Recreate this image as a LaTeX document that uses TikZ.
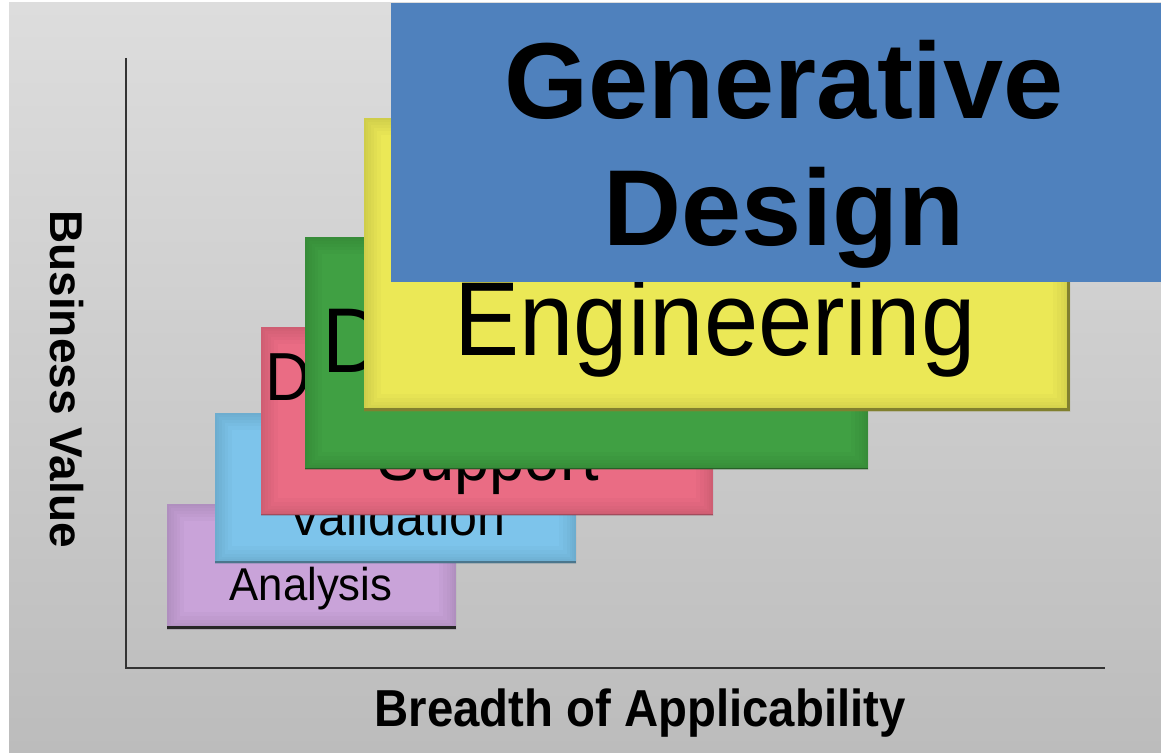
\documentclass[tikz,border=0pt]{standalone}
\usepackage{fontspec}
\setmainfont{Liberation Sans}
\usepackage{graphicx}

\definecolor{bgtop}{HTML}{DDDDDD}
\definecolor{bgbot}{HTML}{BCBCBC}
\definecolor{lavender}{HTML}{C9A3D9}
\definecolor{skyblue}{HTML}{7DC4EB}
\definecolor{rosered}{HTML}{EA6C84}
\definecolor{leafgreen}{HTML}{40A043}
\definecolor{lemon}{HTML}{EBE856}
\definecolor{slateblue}{HTML}{4F81BD}
\definecolor{axisgray}{HTML}{333333}

% horizontally condensed text
\newcommand\hsquash[2]{\scalebox{#1}[1]{#2}}

\tikzset{
  rim/.style={line width=#1, opacity=0.05},
  stage/.style={anchor=north west, inner sep=0pt, outer sep=0pt, fill=#1, draw=none,
    path picture={
      \foreach \w in {34pt,26pt,19pt,13pt,8pt,4pt}
        \draw[#1!60!black, rim=\w]
          (path picture bounding box.south west) rectangle (path picture bounding box.north east);
    }},
  edge/.style={line width=#1, line cap=butt},
  lbl/.style={inner sep=0pt, outer sep=0pt, text=black},
  axisline/.style={draw=axisgray, line width=1.6pt},
}

\begin{document}
\begin{tikzpicture}[x=1pt, y=-1pt]
  \useasboundingbox (0,0) rectangle (1161,752);
  % backdrop
  \fill[white] (0,0) rectangle (1161,752);
  \shade[top color=bgtop, bottom color=bgbot] (9,3) rectangle (1161,752);

  % axes
  \coordinate (ytop) at (126,58);
  \coordinate (origin) at (126,668);
  \coordinate (xend) at (1105,668);
  \draw[axisline] (ytop) -- (origin) -- (xend);

  \node[lbl, anchor=base] (xlabel) at (640,726)
    {\bfseries\fontsize{52}{56}\selectfont\hsquash{0.91}{Breadth of Applicability}};
  \node[lbl, anchor=base, rotate=-90] (ylabel) at (50,379)
    {\bfseries\fontsize{46}{50}\selectfont Business Value};

  % level 1
  \node[stage=lavender, minimum width=289pt, minimum height=125pt] (analysis) at (167,504) {};
  \draw[edge=3.5pt, black!85] ([yshift=1.75pt]analysis.south west) -- ([yshift=1.75pt]analysis.south east);
  \node[lbl, anchor=base] (analysistxt) at (311,600)
    {\fontsize{46}{50}\selectfont\hsquash{0.95}{Analysis}};

  % level 2
  \node[stage=skyblue, minimum width=361pt, minimum height=150pt] (validation) at (215,413) {};
  \draw[edge=2pt, skyblue!60!black] ([yshift=1pt]validation.south west) -- ([yshift=1pt]validation.south east);
  \node[lbl, anchor=base] (validationtxt) at (397,535)
    {\fontsize{54}{60}\selectfont\hsquash{0.93}{Validation}};

  % level 3
  \node[stage=rosered, minimum width=452pt, minimum height=188pt] (support) at (261,327) {};
  \draw[edge=1.5pt, rosered!70!black] ([yshift=0.75pt]support.south west) -- ([yshift=0.75pt]support.south east);
  \node[lbl, anchor=base west] (supportd) at (265,400)
    {\fontsize{68}{76}\selectfont\hsquash{0.93}{D}};
  \node[lbl, anchor=base] (supporttxt) at (488,480)
    {\fontsize{68}{76}\selectfont\hsquash{0.93}{Support}};

  % level 4
  \node[stage=leafgreen, minimum width=563pt, minimum height=232pt] (automation) at (305,237) {};
  \draw[edge=1.5pt, leafgreen!60!black] ([yshift=0.75pt]automation.south west) -- ([yshift=0.75pt]automation.south east);
  \node[lbl, anchor=base west] (automationd) at (322,372)
    {\fontsize{92}{100}\selectfont\hsquash{0.93}{D}};

  % level 5
  \node[stage=lemon, minimum width=706pt, minimum height=293pt] (engineering) at (364,118) {};
  \draw[edge=3pt, lemon!55!black] ([yshift=1.5pt]engineering.south west) -- ([yshift=1.5pt, xshift=-1.5pt]engineering.south east)
    -- ([xshift=-1.5pt]engineering.north east);
  \node[lbl, anchor=base] (engineeringtxt) at (715,355)
    {\fontsize{105}{115}\selectfont\hsquash{0.93}{Engineering}};

  % level 6
  \node[anchor=north west, inner sep=0pt, outer sep=0pt, fill=slateblue,
        minimum width=770pt, minimum height=279pt] (generative) at (391,3) {};
  \node[lbl, anchor=base] (generativetxt) at (784,118)
    {\bfseries\fontsize{108}{120}\selectfont Generative};
  \node[lbl, anchor=base] (designtxt) at (784,245)
    {\bfseries\fontsize{108}{120}\selectfont Design};
\end{tikzpicture}
\end{document}
